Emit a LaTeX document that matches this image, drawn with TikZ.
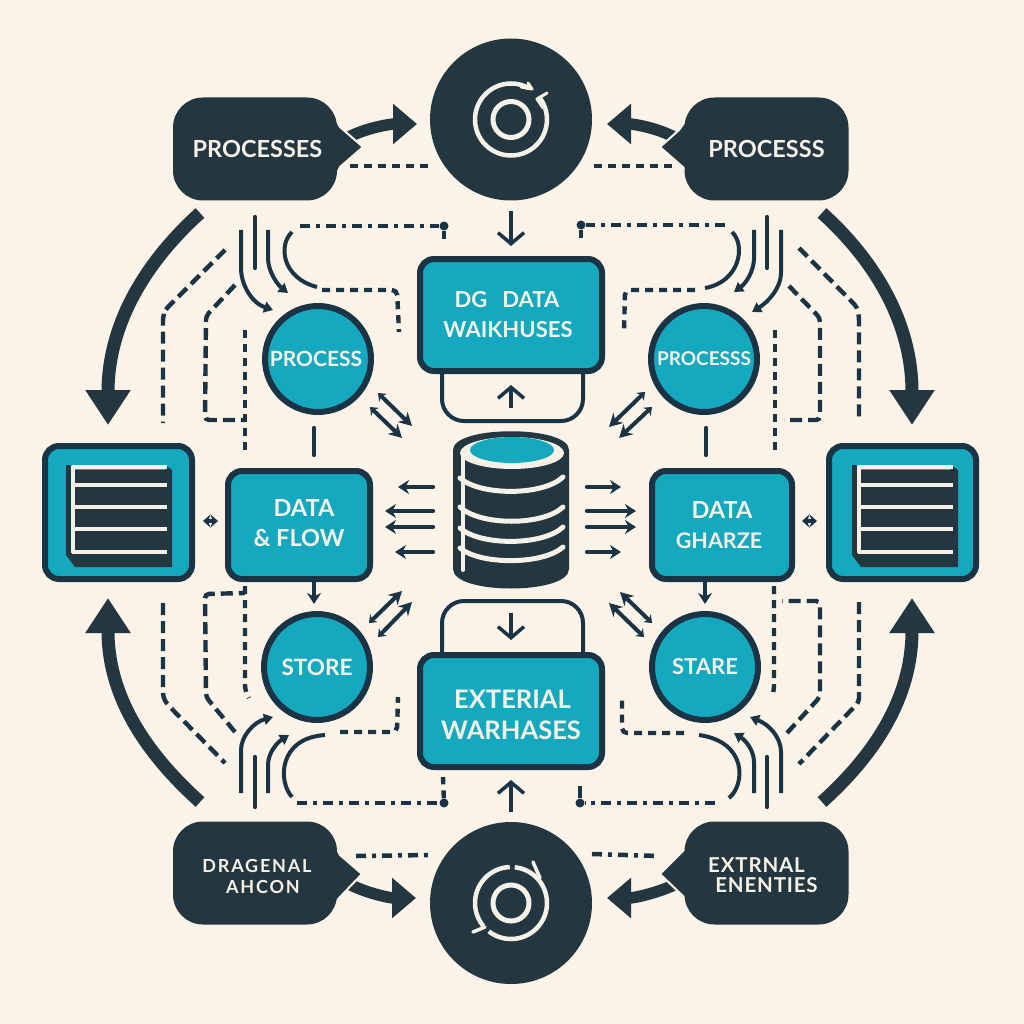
\documentclass[tikz,border=0pt]{standalone}
\usepackage{fontspec}
\setmainfont{Lato}
\usetikzlibrary{arrows.meta,calc,shapes.geometric}
\definecolor{bgc}{HTML}{FBF3E7}
\definecolor{dark}{HTML}{243640}
\definecolor{edge}{HTML}{1B3445}
\definecolor{teal}{HTML}{14A9BF}
\definecolor{ink}{HTML}{F6F1E6}
\newcommand{\fsz}[1]{\fontsize{#1}{24}\selectfont}
\tikzset{
  lbl/.style={text=ink,font=\bfseries\fontsize{#1}{24}\selectfont,align=center,inner sep=0pt},
  tealbox/.style={draw=edge,fill=teal,line width=6pt,rounded corners=14pt,inner sep=0pt},
  tealdisc/.style={circle,draw=edge,fill=teal,line width=6pt,inner sep=0pt,minimum size=106pt},
  bubble/.style={fill=dark,rounded corners=30pt,minimum width=164pt,minimum height=103pt,inner sep=0pt},
  hub/.style={circle,fill=dark,inner sep=0pt,minimum size=162pt},
  ring/.style={draw=ink,line width=4.5pt},
  bigarrow/.style={draw=dark,line width=13pt,-{Triangle[length=35pt,width=43pt]}},
  midarrow/.style={draw=dark,line width=11.5pt,-{Triangle[length=24pt,width=39pt]}},
  openarrow/.style={draw=edge,line width=3.5pt,-{Straight Barb[length=11pt,width=26pt]}},
  smallarrow/.style={draw=edge,line width=4.2pt,line cap=round,-{Stealth[length=11pt,width=14pt]}},
  curvearrow/.style={draw=edge,line width=4pt,-{Triangle[length=9pt,width=11pt]}},
  solidline/.style={draw=edge,line width=4.2pt,line cap=round},
  twoway/.style={draw=edge,line width=4pt,{Stealth[length=7pt,width=11pt]}-{Stealth[length=13pt,width=14pt]}},
  tiny/.style={draw=edge,line width=3.5pt,{Stealth[length=7.5pt,width=13pt]}-{Stealth[length=7.5pt,width=13pt]}},
  dashA/.style={draw=edge,line width=4.4pt,dash pattern=on 12pt off 6pt,rounded corners=4pt},
  dashB/.style={draw=edge,line width=4.4pt,dash pattern=on 8pt off 6pt,rounded corners=5pt},
  dashC/.style={draw=edge,line width=4.4pt,dash pattern=on 10pt off 6pt on 4pt off 6pt,rounded corners=5pt},
  enddot/.style={circle,fill=edge,inner sep=0pt,minimum size=9pt},
  tipedge/.style={fill=dark,draw=bgc,line width=2pt},
}
\begin{document}
\begin{tikzpicture}[x=1pt,y=-1pt]
\useasboundingbox (0,0) rectangle (1024,1024);
\fill[bgc] (0,0) rectangle (1024,1024);

% ---- hubs
\node[hub] (hubT) at (511,119.5) {};
\node[hub] (hubB) at (511,903) {};
\draw[ring] ($(hubT)+(61:36pt)$) arc[start angle=61,end angle=396,radius=36pt];
\draw[ring,line width=5pt] (hubT) circle[radius=18pt];
\draw[ink,line width=3pt,line cap=round,line join=round] (528,83) -- (532,89) -- (521,87);
\draw[ink,line width=3pt,line cap=round,line join=round] (547,93) -- (537,99) -- (543,108);
\draw[ring] ($(hubB)+(92:36pt)$) arc[start angle=92,end angle=220,radius=36pt];
\draw[ring] ($(hubB)+(232:36pt)$) arc[start angle=232,end angle=444,radius=36pt];
\draw[ring,line width=5pt] (hubB) circle[radius=18pt];
\draw[ink,line width=3.5pt,line cap=round] (533,862) -- (540,878);
\draw[ink,line width=3.5pt,line cap=round] (473,932) -- (485,927);

% ---- arrows from the bubbles to the hubs
\coordinate (mTLs) at (349,137); \coordinate (mTLe) at (417,124);
\coordinate (mTRs) at (674,137); \coordinate (mTRe) at (607,124);
\coordinate (mBLs) at (349,884); \coordinate (mBLe) at (416,898);
\coordinate (mBRs) at (674,885); \coordinate (mBRe) at (607,898);
\draw[midarrow] (mTLs) .. controls (366,128) and (390,124) .. (mTLe);
\draw[midarrow] (mTRs) .. controls (657,128) and (634,124) .. (mTRe);
\draw[midarrow] (mBLs) .. controls (366,893) and (390,898) .. (mBLe);
\draw[midarrow] (mBRs) .. controls (657,893) and (634,898) .. (mBRe);

% ---- bubbles
\path[tipedge] (333,115) -- (340,127) -- (363,147) -- (340,167) -- (335,178) -- cycle;
\path[tipedge] (690,115) -- (679,130) -- (660,147) -- (684,168) -- (688,178) -- cycle;
\path[tipedge] (333,842) -- (340,855) -- (362,874) -- (340,897) -- (333,905) -- cycle;
\path[tipedge] (690,842) -- (684,850) -- (660,874) -- (684,897) -- (690,905) -- cycle;
\node[bubble,lbl=23.5] (bubTL) at (255,149) {\kern5pt PROCESSES};
\node[bubble,lbl=23.5] (bubTR) at (766.5,149) {PROCESSS};
\node[bubble,lbl=18] (bubBL) at (255,873) {\rule{0pt}{21pt}\addfontfeature{LetterSpace=10}\kern4pt DRAGENAL\\[-3pt]\addfontfeature{LetterSpace=10}\kern16pt AHCON};
\node[bubble,lbl=20.5] (bubBR) at (766.5,873) {\rule{0pt}{19pt}\addfontfeature{LetterSpace=4}\kern-20pt EXTRNAL\\[-4pt]\addfontfeature{LetterSpace=4}ENENTIES};

% ---- teal boxes
\node[tealbox,minimum width=182pt,minimum height=112pt,lbl=22] (boxT) at (511,315) {\kern-8pt DG\hspace{15pt}DATA\\[6pt]\kern-6pt WAIKHUSES};
\node[tealbox,minimum width=182pt,minimum height=112pt,lbl=25.5] (boxB) at (511,711) {\rule{0pt}{27pt}\kern3pt EXTERIAL\\[7pt]WARHASES};
\node[tealbox,minimum width=142pt,minimum height=108pt,lbl=23.5] (dataL) at (299,525) {\kern10pt DATA\\[6pt]\&\ FLOW\rule[-4pt]{0pt}{4pt}};
\node[tealbox,minimum width=140pt,minimum height=108pt,lbl=23.5] (dataR) at (722,525) {DATA\\[6pt]\kern-6pt{\fsz{21.5}GHARZE}};
\node[tealdisc,lbl=21] (procL) at (318,359) {\kern-4pt PROCESS};
\node[tealdisc,lbl=19] (procR) at (704,359) {PROCESSS};
\node[tealdisc,lbl=22.5] (storeL) at (317,667) {STORE};
\node[tealdisc,lbl=22] (storeR) at (705,667) {STARE};

% ---- ledger boxes
\node[tealbox,minimum width=147pt,minimum height=133pt] (tabL) at (118.5,512.5) {};
\node[tealbox,minimum width=147pt,minimum height=133pt] (tabR) at (902.5,512.5) {};
\foreach \dx in {0,786}{
\begin{scope}[xshift=\dx pt]
  \fill[dark] (66,465) -- (70,465) -- (73,470) -- (165,470) -- (165,465) -- (172,470) -- (172,567) -- (75,567) -- (66,555) -- cycle;
  \fill[teal] (70,462) rectangle (167,465);
  \foreach \yy in {467,485,507,529,552}{\draw[ink,line width=3.5pt] (71.5,\yy) -- (167,\yy);}
  \draw[ink,line width=3.5pt] (73,466) -- (73,553);
\end{scope}}

% ---- loops behind the centre boxes
\coordinate (loopTa) at (442,374); \coordinate (loopTb) at (583,374);
\coordinate (loopBa) at (442,652); \coordinate (loopBb) at (583,652);
\draw[edge,line width=4pt,rounded corners=22pt] (loopTa) -- (442,421) -- (583,421) -- (loopTb);
\draw[edge,line width=4pt,rounded corners=22pt] (loopBa) -- (442,601) -- (583,601) -- (loopBb);

% ---- database
\node[minimum width=116pt,minimum height=157pt,inner sep=0pt] (db) at (511,510) {};
\fill[dark] (453,450) .. controls (453,425) and (569,425) .. (569,450) -- (569,569) .. controls (569,595) and (453,595) .. (453,569) -- cycle;
\fill[ink] (512,453) ellipse[x radius=52pt,y radius=16pt];
\fill[teal] (512,450) ellipse[x radius=42pt,y radius=13pt];
\foreach \ya/\yb/\yc in {478/496/477,507/526/507,528/546/527,548/565/547}{
  \draw[ink,line width=5pt,line cap=round] (460,\ya) .. controls (480,\yb) and (543,\yb) .. (563,\yc);}
\draw[ink,line width=4pt,line cap=round] (463,454) -- (463,570);

% ---- big outer arcs
\coordinate (aTLs) at (200,213); \coordinate (aTLe) at (108,425);
\coordinate (aTRs) at (822,213); \coordinate (aTRe) at (912,425);
\coordinate (aBLs) at (200,802); \coordinate (aBLe) at (108,598);
\coordinate (aBRs) at (822,802); \coordinate (aBRe) at (912,598);
\draw[bigarrow] (aTLs) .. controls (150,258) and (108,320) .. (aTLe);
\draw[bigarrow] (aTRs) .. controls (872,258) and (912,320) .. (aTRe);
\draw[bigarrow] (aBLs) .. controls (150,757) and (108,700) .. (aBLe);
\draw[bigarrow] (aBRs) .. controls (872,757) and (912,700) .. (aBRe);

% ---- straight vertical arrows
\draw[openarrow,shorten <=10pt,shorten >=10pt] (hubT) -- (boxT);
\draw[openarrow,shorten <=10pt,shorten >=10pt] (hubB) -- (boxB);
\coordinate (uTs) at (511,408); \coordinate (uTe) at (511,385);
\coordinate (uBs) at (511,613); \coordinate (uBe) at (511,640);
\draw[openarrow] (uTs) -- (uTe);
\draw[openarrow] (uBs) -- (uBe);
\coordinate (dLs) at (314,582); \coordinate (dLe) at (314,604);
\coordinate (dRs) at (705,582); \coordinate (dRe) at (705,604);
\draw[smallarrow,line cap=butt] (dLs) -- (dLe);
\draw[smallarrow,line cap=butt] (dRs) -- (dRe);
\coordinate (vLs) at (314,428); \coordinate (vLe) at (314,455);
\coordinate (vRs) at (706,428); \coordinate (vRe) at (706,455);
\draw[solidline] (vLs) -- (vLe);
\draw[solidline] (vRs) -- (vRe);

% ---- link between ledger and data boxes
\coordinate (tLa) at (203,521); \coordinate (tLb) at (218,521);
\coordinate (tRa) at (802,521); \coordinate (tRb) at (817,521);
\draw[tiny] (tLa) -- (tLb);
\draw[tiny] (tRa) -- (tRb);

% ---- small arrows around the database
\foreach \n/\yy/\xe in {1/487/398,2/511/385,3/527/385,4/552/395}{
  \coordinate (wa\n) at (433,\yy); \coordinate (wb\n) at (\xe,\yy);
  \draw[smallarrow] (wa\n) -- (wb\n);}
\foreach \n/\yy/\xe in {1/487/621,2/511/636,3/527/636,4/552/621}{
  \coordinate (ea\n) at (587,\yy); \coordinate (eb\n) at (\xe,\yy);
  \draw[smallarrow] (ea\n) -- (eb\n);}

% ---- two-way diagonals
\foreach \n/\xa/\ya/\xb/\yb in {
  1/378/393/412/426, 2/370/407/402/438,
  3/645/392/609/427, 4/652/407/619/438,
  5/369/623/402/591, 6/378/637/412/602,
  7/652/623/620/592, 8/644/637/609/603}{
  \coordinate (da\n) at (\xa,\ya); \coordinate (db\n) at (\xb,\yb);
  \draw[twoway] (da\n) -- (db\n);}

% ---- top-left bundle
\coordinate (a1) at (225,250); \coordinate (a2) at (163,423);
\draw[dashA] (a1) -- (165,310) -- (163,317) -- (a2);
\coordinate (b1) at (235,285); \coordinate (b2) at (245,420);
\draw[dashA] (b1) -- (206,316) -- (205,420) -- (b2);
\coordinate (c1) at (245,330); \coordinate (c2) at (245,455);
\draw[dashB] (c1) -- (c2);
\coordinate (s1a) at (255,217); \coordinate (s1b) at (255,268);
\draw[solidline] (s1a) -- (s1b);
\coordinate (s2a) at (241,230); \coordinate (s2b) at (273,310);
\draw[curvearrow] (s2a) -- (241,268) .. controls (241,285) and (252,303) .. (s2b);
\coordinate (s3a) at (268,230); \coordinate (s3b) at (288,293);
\draw[curvearrow] (s3a) -- (268,258) .. controls (268,272) and (278,285) .. (s3b);
\coordinate (s4a) at (292,232); \coordinate (s4b) at (317,287);
\draw[draw=edge,line width=4pt] (s4a) .. controls (278,245) and (282,278) .. (s4b);
\coordinate (s4c) at (322,290); \coordinate (s4d) at (399,332);
\draw[dashB] (s4c) -- (397,290) -- (s4d);
\coordinate (s5a) at (300,226); \node[enddot] (dTL) at (444,226) {}; \coordinate (s5b) at (444,243);
\draw[dashC] (s5a) -- (dTL);
\draw[dashB] (dTL) -- (s5b);

% ---- top-right bundle
\coordinate (a3) at (799,248); \coordinate (a4) at (859,420);
\draw[dashA] (a3) -- (857,307) -- (859,317) -- (a4);
\coordinate (b3) at (789,286); \coordinate (b4) at (784,420);
\draw[dashA] (b3) -- (820,318) -- (820,420) -- (b4);
\coordinate (c3) at (775,330); \coordinate (c4) at (775,455);
\draw[dashB] (c3) -- (c4);
\coordinate (s6a) at (767,217); \coordinate (s6b) at (767,268);
\draw[solidline] (s6a) -- (s6b);
\coordinate (s7a) at (781,230); \coordinate (s7b) at (752,312);
\draw[curvearrow] (s7a) -- (781,273) .. controls (781,288) and (768,302) .. (s7b);
\coordinate (s8a) at (754,230); \coordinate (s8b) at (734,292);
\draw[curvearrow] (s8a) -- (754,258) .. controls (754,272) and (745,284) .. (s8b);
\coordinate (s9a) at (732,232); \coordinate (s9b) at (705,288);
\draw[draw=edge,line width=4pt] (s9a) .. controls (746,245) and (740,282) .. (s9b);
\coordinate (s9c) at (695,290); \coordinate (s9d) at (624,333);
\draw[dashB] (s9c) -- (625,290) -- (s9d);
\coordinate (s10a) at (725,225); \node[enddot] (dTR) at (581,225) {}; \coordinate (s10b) at (581,243);
\draw[dashC] (s10a) -- (dTR);
\draw[dashB] (dTR) -- (s10b);

% ---- bottom-left bundle
\coordinate (a5) at (163,603); \coordinate (a6) at (225,763);
\draw[dashA] (a5) -- (163,697) -- (167,704) -- (a6);
\coordinate (b5) at (235,732); \coordinate (b6) at (245,593);
\draw[dashA] (b5) -- (206,697) -- (205,594) -- (b6);
\coordinate (c5) at (245,586); \coordinate (c6) at (249,698);
\draw[dashB] (c5) -- (245,690) -- (c6);
\coordinate (s11a) at (255,757); \coordinate (s11b) at (255,807);
\draw[solidline] (s11a) -- (s11b);
\coordinate (s12a) at (241,793); \coordinate (s12b) at (273,717);
\draw[curvearrow] (s12a) -- (241,750) .. controls (241,736) and (254,722) .. (s12b);
\coordinate (s13a) at (268,793); \coordinate (s13b) at (289,735);
\draw[curvearrow] (s13a) -- (268,765) .. controls (268,752) and (278,742) .. (s13b);
\coordinate (s14a) at (292,797); \coordinate (s14b) at (325,735);
\draw[draw=edge,line width=4pt] (s14a) .. controls (278,782) and (278,738) .. (s14b);
\coordinate (s14c) at (340,732); \coordinate (s14d) at (398,697);
\draw[dashB] (s14c) -- (397,732) -- (s14d);
\coordinate (s15a) at (297,803); \node[enddot] (dBL) at (444,803) {}; \coordinate (s15b) at (443,777);
\draw[dashC] (s15a) -- (dBL);
\draw[dashB] (dBL) -- (s15b);

% ---- bottom-right bundle
\coordinate (a7) at (859,602); \coordinate (a8) at (799,764);
\draw[dashA] (a7) -- (859,702) -- (a8);
\coordinate (b7) at (787,733); \coordinate (b8) at (782,601);
\draw[dashA] (b7) -- (820,697) -- (820,601) -- (b8);
\coordinate (c7) at (774,586); \coordinate (c8) at (772,697);
\draw[dashB] (c7) -- (774,690) -- (c8);
\coordinate (s16a) at (767,757); \coordinate (s16b) at (767,807);
\draw[solidline] (s16a) -- (s16b);
\coordinate (s17a) at (781,793); \coordinate (s17b) at (750,717);
\draw[curvearrow] (s17a) -- (781,752) .. controls (781,738) and (770,725) .. (s17b);
\coordinate (s18a) at (754,793); \coordinate (s18b) at (734,733);
\draw[curvearrow] (s18a) -- (754,762) .. controls (754,750) and (745,740) .. (s18b);
\coordinate (s19a) at (729,798); \coordinate (s19b) at (699,735);
\draw[draw=edge,line width=4pt] (s19a) .. controls (745,785) and (748,742) .. (s19b);
\coordinate (s19c) at (684,733); \coordinate (s19d) at (622,698);
\draw[dashB] (s19c) -- (622,733) -- (s19d);
\coordinate (s20a) at (715,803); \node[enddot] (dBR) at (580,803) {}; \coordinate (s20b) at (580,786);
\draw[dashC] (s20a) -- (dBR);
\draw[solidline,line cap=butt] (dBR) -- (s20b);

% ---- short dashes between bubbles and hubs
\coordinate (h1a) at (350,166); \coordinate (h1b) at (430,166);
\draw[dashB,line width=4.5pt] (h1a) -- (h1b);
\coordinate (h2a) at (594,166); \coordinate (h2b) at (672,166);
\draw[dashB,line width=4.5pt] (h2a) -- (h2b);
\coordinate (h3a) at (356,856); \coordinate (h3b) at (430,855);
\draw[dashC,line width=4.5pt] (h3a) -- (h3b);
\coordinate (h4a) at (592,854); \coordinate (h4b) at (659,856);
\draw[dashC,line width=4.5pt] (h4a) -- (h4b);
\end{tikzpicture}
\end{document}
